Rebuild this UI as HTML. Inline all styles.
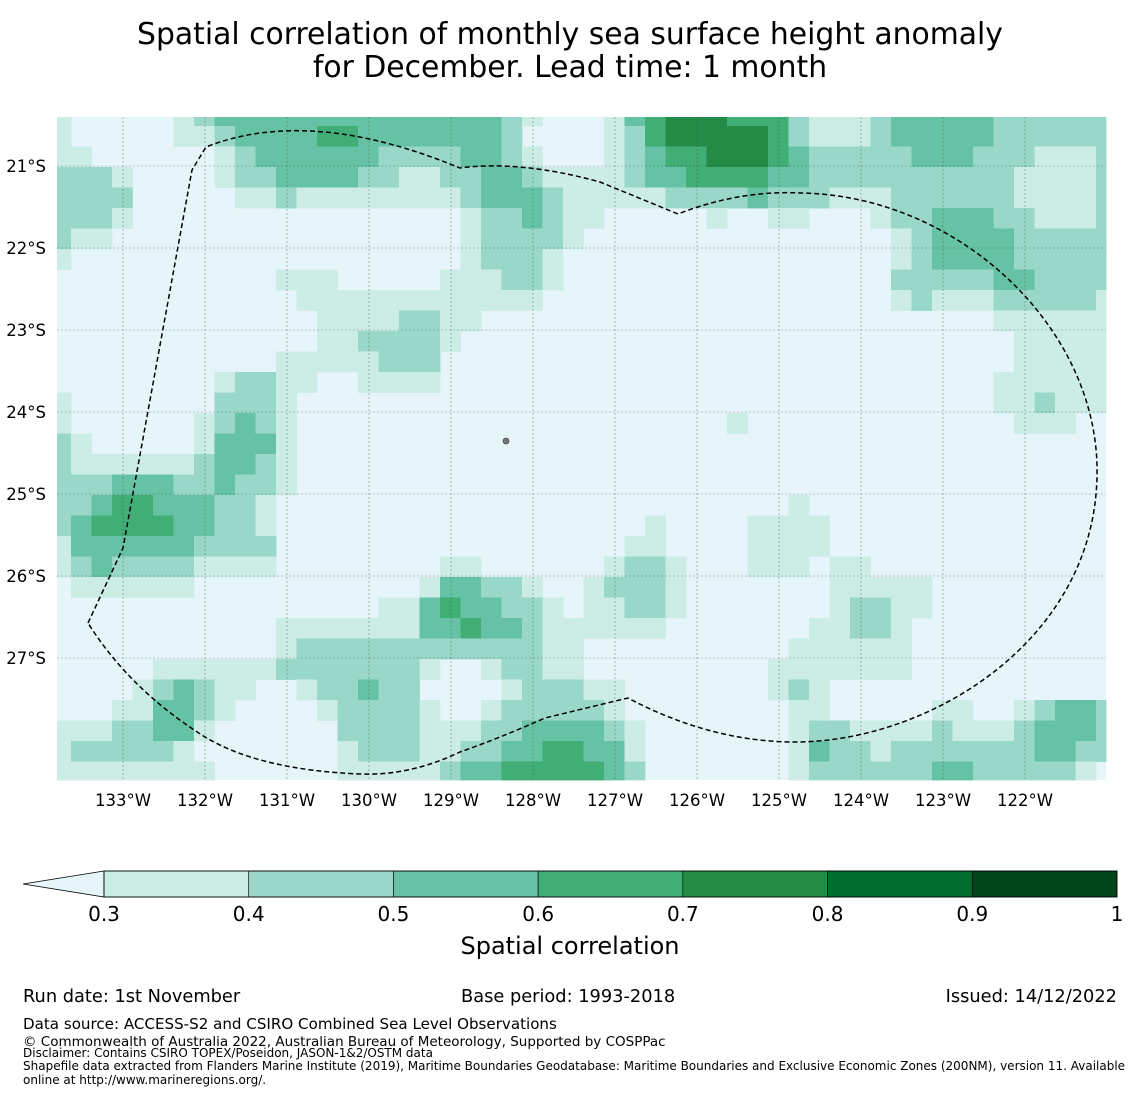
<!DOCTYPE html>
<html><head><meta charset="utf-8"><style>
body{margin:0;background:#fff;}
svg{display:block;font-family:"DejaVu Sans","Liberation Sans",sans-serif;}
</style></head><body>
<svg id="chart" width="1140" height="1095" viewBox="0 0 1140 1095">
<text x="570" y="44" font-size="29.8" text-anchor="middle">Spatial correlation of monthly sea surface height anomaly</text>
<text x="570" y="77" font-size="29.8" text-anchor="middle">for December. Lead time: 1 month</text>
<g id="map"></g>
<g id="axes"></g>
<g id="cbar"></g>
<text x="570" y="954" font-size="24" text-anchor="middle">Spatial correlation</text>
<text x="23" y="1002" font-size="17.8">Run date: 1st November</text>
<text x="461" y="1002" font-size="17.8">Base period: 1993-2018</text>
<text x="1117" y="1002" font-size="17.8" text-anchor="end">Issued: 14/12/2022</text>
<text x="23" y="1029" font-size="15.1">Data source: ACCESS-S2 and CSIRO Combined Sea Level Observations</text>
<text x="23" y="1046" font-size="13.5">© Commonwealth of Australia 2022, Australian Bureau of Meteorology, Supported by COSPPac</text>
<text x="23" y="1057" font-size="12">Disclaimer: Contains CSIRO TOPEX/Poseidon, JASON-1&amp;2/OSTM data</text>
<text x="23" y="1070" font-size="12">Shapefile data extracted from Flanders Marine Institute (2019), Maritime Boundaries Geodatabase: Maritime Boundaries and Exclusive Economic Zones (200NM), version 11. Available</text>
<text x="23" y="1084" font-size="12">online at http://www.marineregions.org/.</text>
</svg>
<script>
// correlation bins per cell: digit 0 -> below 0.3, digit d -> 0.2+0.1*d bin
const corrRows = [
["1000001233","3333333333","3321000134","5554442111","2333332222","22"],
["1000001123","3334433333","3320000124","5555542111","2333332222","22"],
["1100000012","3333332222","3321000123","4455543222","2233322211","12"],
["2221000012","2333322112","2332111123","3444433222","2222222111","12"],
["2222000001","1211111111","2333211111","2222322211","1222222111","12"],
["2221000000","0000000000","1223211000","0010011000","1223332211","12"],
["2110000000","0000000000","1222210000","0000000000","0123333222","22"],
["1000000000","0000000000","1222100000","0000000000","0123333222","22"],
["0000000000","0111000001","1122100000","0000000000","0222223322","22"],
["0000000000","0011111111","1111000000","0000000000","0121112222","21"],
["0000000000","0001111221","1000000000","0000000000","0000001111","11"],
["0000000000","0001122221","0000000000","0000000000","0000000111","11"],
["0000000000","0111112220","0000000000","0000000000","0000000111","11"],
["0000000012","2110011110","0000000000","0000000000","0000001111","11"],
["1000000022","2100000000","0000000000","0000000000","0000001121","11"],
["1000000123","2100000000","0000000000","0001000000","0000000111","00"],
["2100000133","3100000000"],
["2111111233","2100000000"],
["2223332232","2100000000"],
["2234433322","1000000000","0000000000","0000001000"],
["2344443322","1000000000","0000000001","0000111100"],
["1333333222","2000000000","0000000011","0000111100"],
["1232222111","1000000001","1000000122","1000111011"],
["0111111000","0000000013","3221001222","1000000011","1110000000"],
["0000000000","0000001134","3322101122","1000000012","2110000000"],
["0000000000","0111111133","4332111111","0000000112","2100000000"],
["0000000000","0122222222","2222110000","0000001111","1100000000"],
["0000011111","1222222210","0122110000","0000011111","1100000000"],
["0000123211","0012232200","0012221100","0000012100"],
["0001133210","0001222210","0122222100","0000001100","0001100123","32"],
["1112233100","0000222211","1223333210","0000001221","1112111233","32"],
["1222221000","0000122211","2233443310","0000001322","1222222233","22"],
["1111111100","0000111112","3344444320","0000001222","2223322222","10"]
];
const binColors = ["#e5f5f9","#ccece6","#99d8c9","#66c2a4","#41ae76","#238b45","#006d2c","#00441b"];
const cbBounds = [0.3,0.4,0.5,0.6,0.7,0.8,0.9,1.0];
const cbLabels = ["0.3","0.4","0.5","0.6","0.7","0.8","0.9","1"];
const lonTicks = [-133,-132,-131,-130,-129,-128,-127,-126,-125,-124,-123,-122];
const latTicks = [-21,-22,-23,-24,-25,-26,-27];

const NS = "http://www.w3.org/2000/svg";
const X0 = 57, X1 = 1106, Y0 = 117, Y1 = 780, PX = 82;
function lonX(lon){ return 123 + (lon + 133) * PX; }
function latY(lat){ return 166 + (-21 - lat) * PX; }
function colEdge(c){ return c === 0 ? X0 : Math.min(X1, 71 + 20.5 * (c - 1)); }
function rowEdge(r){ return r === 0 ? Y0 : Math.min(Y1, 126 + 20.5 * (r - 1)); }
function corrValue(d){ return d === 0 ? 0.2 : 0.25 + 0.1 * d; }
function colorFor(v){
  if (v < cbBounds[0]) return binColors[0];
  for (let i = 0; i < cbBounds.length - 1; i++) if (v < cbBounds[i+1]) return binColors[i+1];
  return binColors[7];
}
function mk(tag, attrs, parent){ const e = document.createElementNS(NS, tag); for (const k in attrs) e.setAttribute(k, attrs[k]); parent.appendChild(e); return e; }

const map = document.getElementById("map");
mk("rect", {x:X0, y:Y0, width:X1-X0, height:Y1-Y0, fill:binColors[0]}, map);
corrRows.forEach((segs, r) => {
  const row = segs.join("").padEnd(52, "0").slice(0, 52);
  for (let c = 0; c < row.length; c++) {
    const v = corrValue(+row[c]);
    if (v < 0.3) continue;
    const x = colEdge(c), y = rowEdge(r), w = colEdge(c+1) - x, h = rowEdge(r+1) - y;
    const cell = mk("rect", {x:x, y:y, width:w+0.4, height:h+0.4, fill:colorFor(v)}, map);
    
    
  }
});
const axes = document.getElementById("axes");
lonTicks.forEach(lon => {
  const x = lonX(lon);
  const gl = mk("line", {x1:x, x2:x, y1:Y0, y2:Y1, stroke:"#333", "stroke-width":0.6, "stroke-dasharray":"2,2", opacity:0.5}, axes);
  
  
  const t = mk("text", {x:x, y:806, "font-size":16.5, "text-anchor":"middle"}, axes);
  t.textContent = Math.abs(lon) + "°W";
  
  
});
latTicks.forEach(lat => {
  const y = latY(lat);
  const gl = mk("line", {x1:X0, x2:X1, y1:y, y2:y, stroke:"#333", "stroke-width":0.6, "stroke-dasharray":"2,2", opacity:0.5}, axes);
  
  
  const t = mk("text", {x:46, y:y+6, "font-size":16.5, "text-anchor":"end"}, axes);
  t.textContent = Math.abs(lat) + "°S";
  
  
});
const eez = mk("path", {d:"M88,623 L123,548 L192,170 L206,147 Q310,106 460,168 Q520,160 600,182 L678,214 Q740,190 800,193 C960,195 1100,330 1097,475 C1095,640 930,742 795,742 C720,742 660,715 628,698 L545,718 Q500,738 460,752 Q410,776 360,774 Q260,770 205,737 Q130,690 88,623 Z", fill:"none", stroke:"#000", "stroke-width":1.5, "stroke-dasharray":"5,3"}, axes);


const isl = mk("circle", {cx:506, cy:441, r:3, fill:"#777", stroke:"#333", "stroke-width":0.6}, axes);



const cbar = document.getElementById("cbar");
const CB0 = 104, CB1 = 1117, CBY = 871, CBH = 26;
function cbX(v){ return CB0 + (v - 0.3) / 0.7 * (CB1 - CB0); }
const tri = mk("polygon", {points:`${CB0},${CBY} 23,${CBY+CBH/2} ${CB0},${CBY+CBH}`, fill:binColors[0], stroke:"#000", "stroke-width":0.8}, cbar);


for (let i = 0; i < cbBounds.length - 1; i++) {
  const x = cbX(cbBounds[i]);
  const seg = mk("rect", {x:x, y:CBY, width:cbX(cbBounds[i+1]) - x, height:CBH, fill:binColors[i+1], stroke:"#000", "stroke-width":0.6}, cbar);
  
  
}
mk("rect", {x:CB0, y:CBY, width:CB1-CB0, height:CBH, fill:"none", stroke:"#000", "stroke-width":0.8}, cbar);
cbLabels.forEach((lab, i) => {
  const t = mk("text", {x:cbX(cbBounds[i]), y:921, "font-size":20, "text-anchor":"middle"}, cbar);
  t.textContent = lab;
  
  
});
</script>
</body></html>
